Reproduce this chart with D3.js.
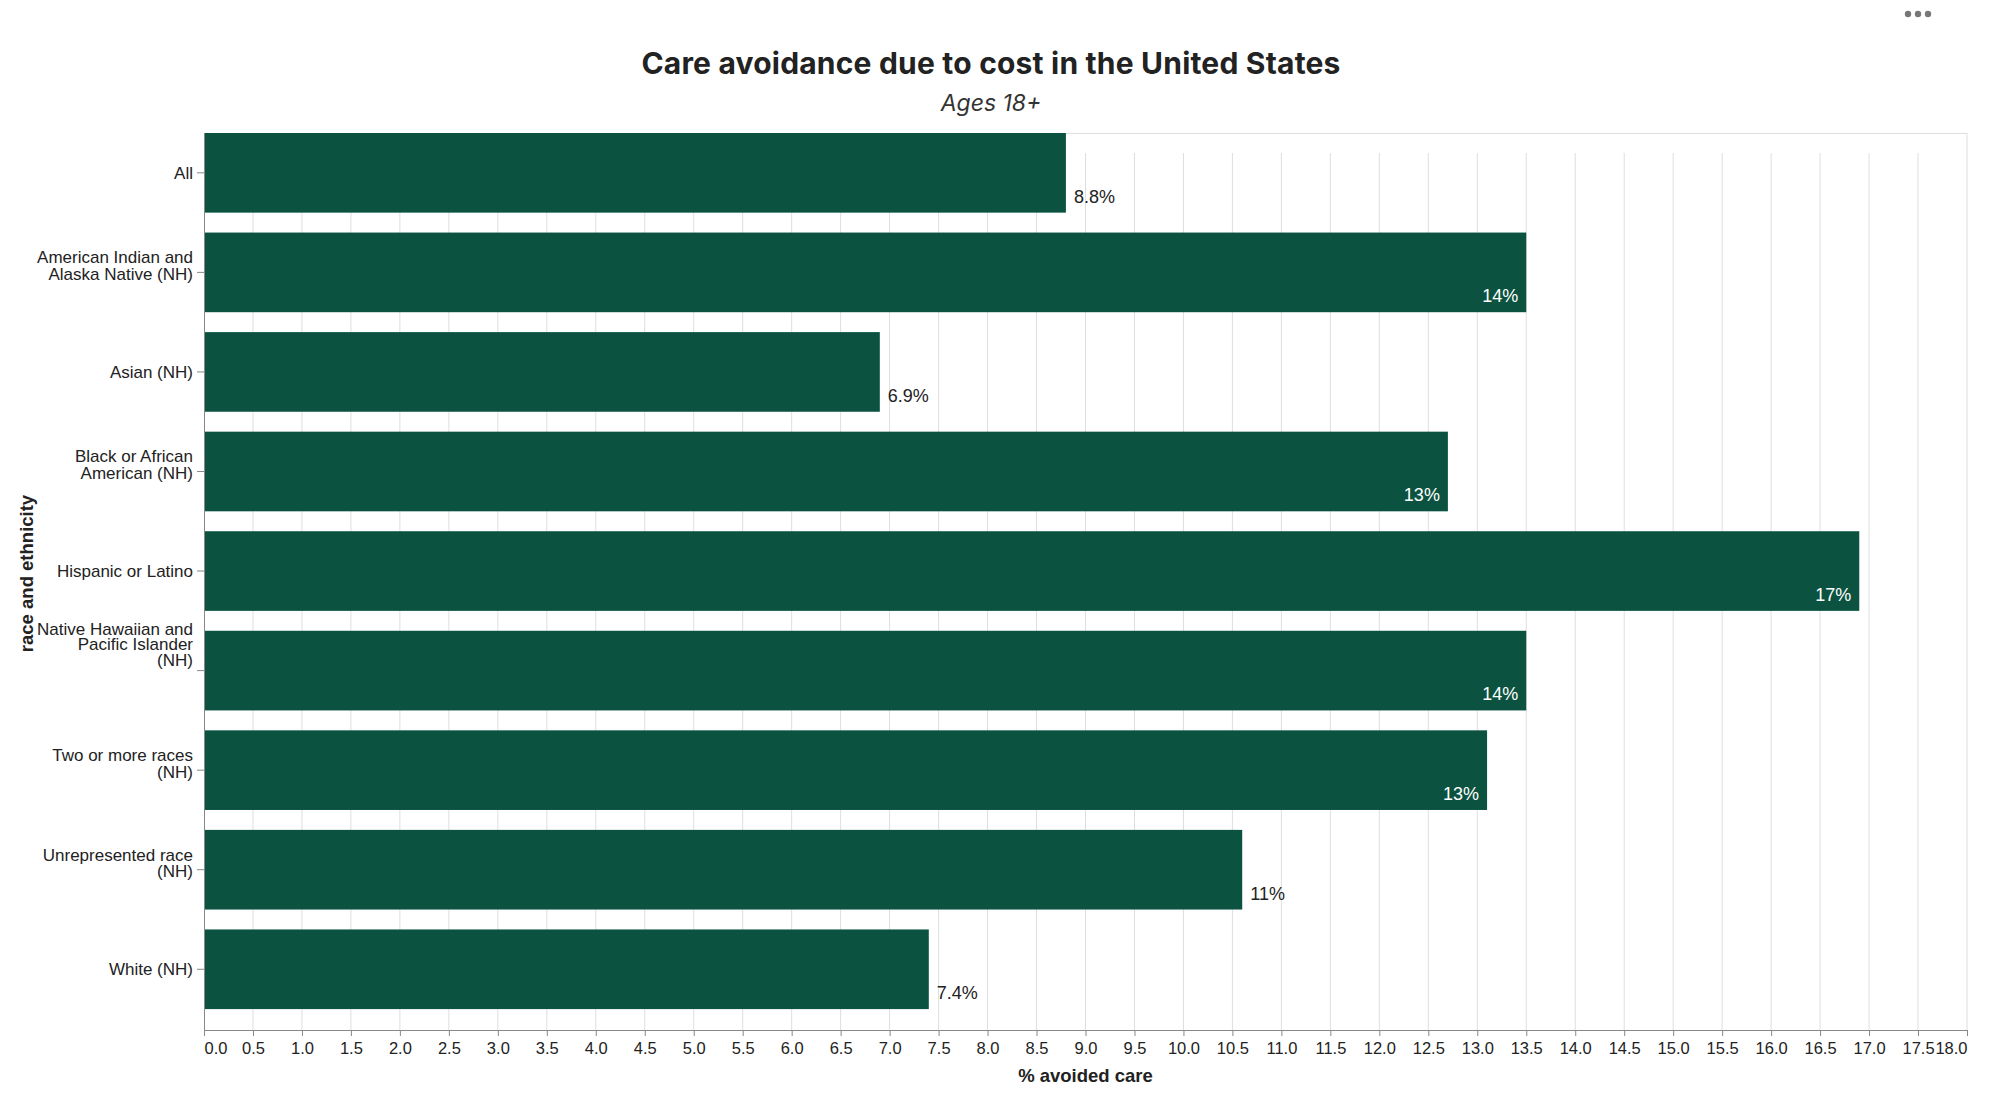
<!DOCTYPE html>
<html>
<head>
<meta charset="utf-8">
<script src="https://cdn.jsdelivr.net/npm/d3@7"></script>
<style>
  html, body { margin: 0; padding: 0; background: #fff; }
  svg { display: block; }
</style>
</head>
<body>
<svg id="chart" width="1999" height="1100"></svg>
<script>
// ---- data ----
const categories = [
  "All",
  "American Indian and\nAlaska Native (NH)",
  "Asian (NH)",
  "Black or African\nAmerican (NH)",
  "Hispanic or Latino",
  "Native Hawaiian and\nPacific Islander\n(NH)",
  "Two or more races\n(NH)",
  "Unrepresented race\n(NH)",
  "White (NH)"
];
const values = [8.8, 13.5, 6.9, 12.7, 16.9, 13.5, 13.1, 10.6, 7.4];
const xTicks = d3.range(0, 18.0001, 0.5);
const titleText = "Care avoidance due to cost in the United States";
const subtitleText = "Ages 18+";
const xTitle = "% avoided care";
const yTitle = "race and ethnicity";

// ---- layout ----
const L = 204, R = 1967, T = 133, B = 1030;
const svg = d3.select("#chart");
const labelFont = "'Liberation Sans', Arial, Helvetica, sans-serif";
const titleFont = "Inter, 'Liberation Sans', Arial, sans-serif";
const barColor = "#0b5340";

const x = d3.scaleLinear().domain([0, 18]).range([L, R]);
const y = d3.scaleBand().domain(categories).range([T, B - 1])
  .paddingInner(0.2).paddingOuter(0.1).align(0);

// title
svg.append("text").attr("x", 991).attr("y", 74)
  .attr("text-anchor", "middle").attr("font-family", titleFont)
  .attr("font-weight", 700).attr("font-size", 30).attr("letter-spacing", 0.2).attr("fill", "#222")
  .text(titleText);
svg.append("text").attr("x", 991).attr("y", 111)
  .attr("text-anchor", "middle").attr("font-family", titleFont)
  .attr("font-style", "italic").attr("font-size", 23).attr("fill", "#333")
  .text(subtitleText);

// menu dots
svg.append("g").selectAll("circle").data([0, 1, 2]).join("circle")
  .attr("cx", d => 1930 + d * 10).attr("cy", 14).attr("r", 3.2).attr("fill", "#777")
  .attr("transform", "translate(-22,0)");

// grid
svg.append("g").selectAll("line").data(xTicks.filter(t => t > 0 && t < 18)).join("line")
  .attr("x1", d => x(d)).attr("x2", d => x(d))
  .attr("y1", T + 20).attr("y2", B)
  .attr("stroke", "#dedede").attr("stroke-width", 1);
// frame
svg.append("line").attr("x1", L).attr("x2", R).attr("y1", T + 0.5).attr("y2", T + 0.5)
  .attr("stroke", "#dedede");
svg.append("line").attr("x1", R).attr("x2", R).attr("y1", T).attr("y2", B)
  .attr("stroke", "#dedede");

// bars
svg.append("g").selectAll("rect").data(categories).join("rect")
  .attr("x", L).attr("y", d => y(d))
  .attr("width", (d, i) => x(values[i]) - L)
  .attr("height", y.bandwidth())
  .attr("fill", barColor);

// value labels
const fmt = d3.format(".2~r");
svg.append("g").selectAll("text").data(categories).join("text")
  .attr("x", (d, i) => values[i] >= 12 ? x(values[i]) - 8 : x(values[i]) + 8)
  .attr("y", d => y(d) + y.bandwidth() - 10)
  .attr("text-anchor", (d, i) => values[i] >= 12 ? "end" : "start")
  .attr("fill", (d, i) => values[i] >= 12 ? "#fff" : "#222")
  .attr("font-family", labelFont).attr("font-size", 18)
  .text((d, i) => fmt(values[i]) + "%");

// x axis
const xAxis = d3.axisBottom(x).tickValues(xTicks).tickFormat(d3.format(".1f")).tickSize(6).tickSizeOuter(0);
const gx = svg.append("g").attr("transform", `translate(0,${B})`).call(xAxis);
gx.select(".domain").attr("stroke", "#888");
gx.selectAll(".tick line").attr("stroke", "#888");
gx.selectAll(".tick text").attr("font-family", labelFont).attr("font-size", 16.5)
  .attr("fill", "#222").attr("dy", "0.71em").attr("y", 12)
  .attr("text-anchor", d => d === 0 ? "start" : (d === 18 ? "end" : "middle"));
svg.append("text").attr("x", (L + R) / 2).attr("y", 1082)
  .attr("text-anchor", "middle").attr("font-family", labelFont)
  .attr("font-weight", 700).attr("font-size", 18.5).attr("fill", "#222")
  .text(xTitle);

// y axis
const gy = svg.append("g").attr("transform", `translate(${L},0)`)
  .call(d3.axisLeft(y).tickSize(7).tickSizeOuter(0).tickFormat(""));
gy.select(".domain").attr("stroke", "#888").attr("d", `M0.5,${T}V${B}`);
gy.selectAll(".tick").attr("transform", d => `translate(0,${y(d) + y.bandwidth() / 2})`);
gy.selectAll(".tick line").attr("stroke", "#888");
const firstOffset = {1: 6, 2: -9, 3: -36};
const lineGap = {1: 0, 2: 16.5, 3: 15.5};
gy.selectAll(".tick text").each(function(d) {
  const lines = d.split("\n");
  const t = d3.select(this).text(null)
    .attr("x", -11).attr("y", null).attr("dy", null)
    .attr("text-anchor", "end").attr("font-family", labelFont)
    .attr("font-size", 17).attr("fill", "#222");
  lines.forEach((ln, k) => {
    t.append("tspan").attr("x", -11)
      .attr("y", firstOffset[lines.length] + k * lineGap[lines.length]).text(ln);
  });
});
svg.append("text")
  .attr("transform", `translate(33,${(T + B) / 2 - 8}) rotate(-90)`)
  .attr("text-anchor", "middle").attr("font-family", labelFont)
  .attr("font-weight", 700).attr("font-size", 18.5).attr("fill", "#222")
  .text(yTitle);
</script>
</body>
</html>
